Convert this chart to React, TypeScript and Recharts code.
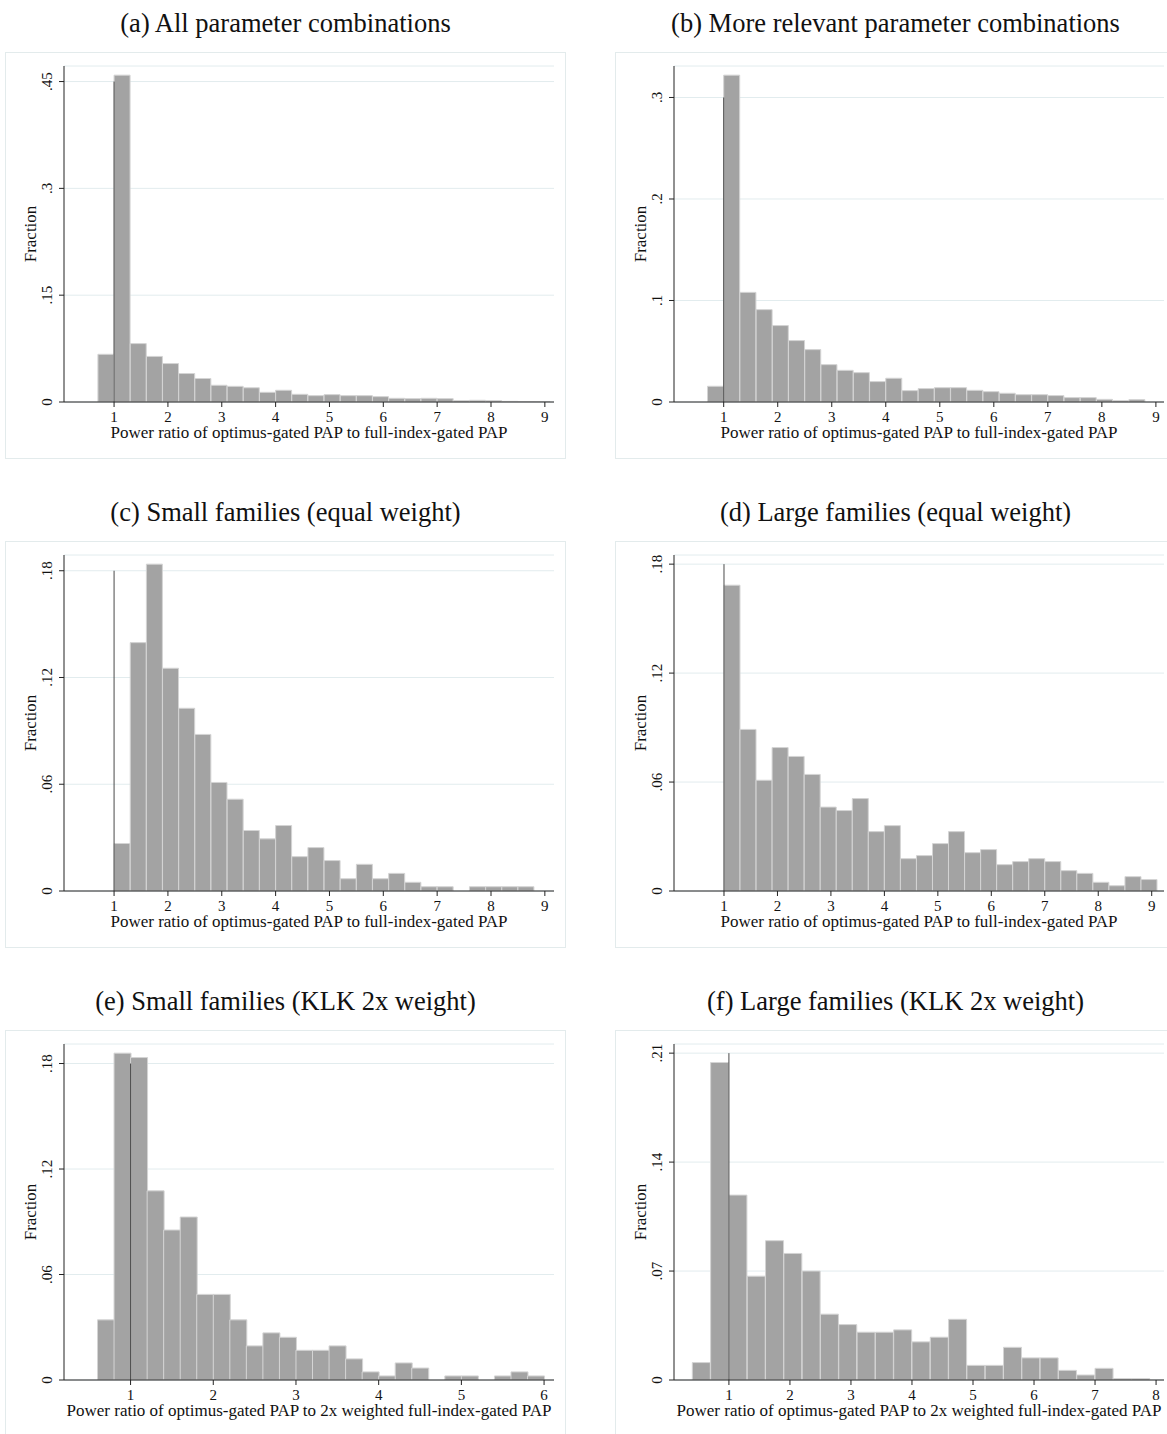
import React from "react";
import {
  ComposedChart,
  Bar,
  XAxis,
  YAxis,
  CartesianGrid,
  ReferenceLine,
  Label,
} from "recharts";

// fractions per histogram bin
const fracA = [
  0.067, 0.459, 0.082, 0.064, 0.054, 0.04, 0.033, 0.0235, 0.022, 0.02, 0.0136,
  0.0165, 0.0108, 0.0089, 0.0103, 0.0089, 0.0089, 0.0075, 0.0052, 0.0047,
  0.0052, 0.0047, 0.0019, 0.0024, 0.0019, 0.0009, 0.0005, 0.0003,
];
const fracB = [
  0.0155, 0.322, 0.108, 0.091, 0.0753, 0.0605, 0.0516, 0.0368, 0.0312, 0.0289,
  0.0201, 0.0234, 0.0112, 0.0132, 0.0141, 0.0141, 0.0115, 0.0102, 0.0086,
  0.0072, 0.0072, 0.0063, 0.0043, 0.0043, 0.0026, 0.0013, 0.0023,
];
const fracC = [
  0.0267, 0.1396, 0.1837, 0.1252, 0.1027, 0.088, 0.061, 0.0516, 0.034, 0.0293,
  0.0368, 0.0193, 0.0244, 0.0171, 0.0069, 0.015, 0.0069, 0.0099, 0.0049,
  0.0024, 0.0024, 0, 0.0024, 0.0024, 0.0024, 0.0024,
];
const fracD = [
  0.1684, 0.089, 0.061, 0.079, 0.0741, 0.0642, 0.0462, 0.0443, 0.0509, 0.0327,
  0.036, 0.0178, 0.0195, 0.0261, 0.0327, 0.0211, 0.0228, 0.0145, 0.0162,
  0.0178, 0.0162, 0.0112, 0.0097, 0.0048, 0.0029, 0.0079, 0.0063,
];
const fracE = [
  0.0342, 0.1859, 0.1834, 0.1076, 0.0853, 0.0927, 0.0487, 0.0487, 0.0342,
  0.0194, 0.0268, 0.0243, 0.0169, 0.0169, 0.0194, 0.012, 0.0046, 0.0023,
  0.0097, 0.0068, 0, 0.0023, 0.0023, 0, 0.0023, 0.0046, 0.0023,
];
const fracF = [
  0.0112, 0.204, 0.1188, 0.0667, 0.0895, 0.0813, 0.07, 0.0423, 0.0356, 0.0307,
  0.0307, 0.0322, 0.0245, 0.0275, 0.039, 0.0094, 0.0094, 0.021, 0.0142,
  0.0142, 0.0062, 0.0032, 0.0075, 0.0009, 0.0009,
];

// first bin edge and bin width of each histogram
const binStart = { a: 0.7, b: 0.7, c: 1.0, d: 1.0, e: 0.6, f: 0.4 };
const binWidth = { a: 0.3, b: 0.3, c: 0.3, d: 0.3, e: 0.2, f: 0.3 };

const xTicks9 = [1, 2, 3, 4, 5, 6, 7, 8, 9];
const xTicks6 = [1, 2, 3, 4, 5, 6];
const xTicks8 = [1, 2, 3, 4, 5, 6, 7, 8];

const yTicksA = [0, 0.15, 0.3, 0.45];
const yTicksB = [0, 0.1, 0.2, 0.3];
const yTicks06 = [0, 0.06, 0.12, 0.18];
const yTicksF = [0, 0.07, 0.14, 0.21];

const titles = [
  "(a) All parameter combinations",
  "(b) More relevant parameter combinations",
  "(c) Small families (equal weight)",
  "(d) Large families (equal weight)",
  "(e) Small families (KLK 2x weight)",
  "(f) Large families (KLK 2x weight)",
];

const xTitle1 = "Power ratio of optimus-gated PAP to full-index-gated PAP";
const xTitle2 =
  "Power ratio of optimus-gated PAP to 2x weighted full-index-gated PAP";

const FONT = "'Liberation Serif', 'Times New Roman', serif";
const PW = 561;
const PH = 407;

const fmtY = (v: number) => (v === 0 ? "0" : String(v).replace(/^0/, ""));

function YTick(props: any) {
  const { x, y, payload } = props;
  return (
    <text
      x={x}
      y={y}
      transform={`rotate(-90 ${x} ${y})`}
      textAnchor="middle"
      fontSize={15}
      fontFamily={FONT}
      fill="#111"
    >
      {fmtY(payload.value)}
    </text>
  );
}

type PanelProps = {
  title: string;
  left: number;
  top: number;
  frac: number[];
  start: number;
  width: number;
  xDomain: [number, number];
  xTicks: number[];
  yTicks: number[];
  xTitle: string;
};

function Panel({
  title,
  left,
  top,
  frac,
  start,
  width,
  xDomain,
  xTicks,
  yTicks,
  xTitle,
}: PanelProps) {
  const data = frac.map((v, i) => ({ x: start + width * (i + 0.5), v }));
  const yTop = Math.max(Math.max(...frac), yTicks[yTicks.length - 1]) * 1.028;
  const lineTop = yTicks[yTicks.length - 1];

  return (
    <>
      <div
        style={{
          position: "absolute",
          left,
          top: top - 44,
          width: PW,
          textAlign: "center",
          fontFamily: FONT,
          fontSize: 26.5,
          lineHeight: "30px",
          color: "#111",
          whiteSpace: "nowrap",
        }}
      >
        {title}
      </div>
      <div
        style={{
          position: "absolute",
          left,
          top,
          width: PW,
          height: PH,
          boxSizing: "border-box",
          border: "1px solid #e3ebec",
        }}
      >
        <ComposedChart
          width={PW}
          height={PH}
          data={data}
          margin={{ top: 13, right: 13, bottom: 13, left: 18 }}
          barCategoryGap={0}
          barGap={0}
        >
          <CartesianGrid horizontal vertical={false} stroke="#e2ecee" />
          <XAxis
            dataKey="x"
            type="number"
            domain={xDomain}
            allowDataOverflow
            ticks={xTicks}
            height={45}
            tickSize={5}
            tickMargin={4}
            stroke="#222"
            tick={{ fontSize: 15, fontFamily: FONT, fill: "#111" }}
          >
            <Label
              content={(p: any) => {
                const vb = p.viewBox;
                return (
                  <text
                    x={vb.x + vb.width / 2}
                    y={vb.y + 36}
                    textAnchor="middle"
                    fontSize={17}
                    fontFamily={FONT}
                    fill="#111"
                  >
                    {xTitle}
                  </text>
                );
              }}
            />
          </XAxis>
          <YAxis
            type="number"
            domain={[0, yTop]}
            allowDataOverflow
            ticks={yTicks}
            width={40}
            tickSize={5}
            tickMargin={7}
            stroke="#222"
            tick={<YTick />}
          >
            <Label
              content={(p: any) => {
                const vb = p.viewBox;
                const cx = 30;
                const cy = vb.y + vb.height / 2;
                return (
                  <text
                    x={cx}
                    y={cy}
                    transform={`rotate(-90 ${cx} ${cy})`}
                    textAnchor="middle"
                    fontSize={17}
                    fontFamily={FONT}
                    fill="#111"
                  >
                    Fraction
                  </text>
                );
              }}
            />
          </YAxis>
          <Bar
            dataKey="v"
            fill="#a3a3a3"
            stroke="#d4d4d4"
            strokeWidth={1}
            isAnimationActive={false}
          />
          <ReferenceLine
            segment={[
              { x: 1, y: 0 },
              { x: 1, y: lineTop },
            ]}
            stroke="#4a4a4a"
            strokeWidth={1}
          />
        </ComposedChart>
      </div>
    </>
  );
}

export default function App() {
  const col1 = 5;
  const col2 = 615;
  return (
    <div
      style={{
        position: "absolute",
        left: 0,
        top: 0,
        width: 1167,
        height: 1434,
        background: "#fff",
        overflow: "hidden",
      }}
    >
      <Panel
        title={titles[0]}
        left={col1}
        top={52}
        frac={fracA}
        start={binStart.a}
        width={binWidth.a}
        xDomain={[0.07, 9.17]}
        xTicks={xTicks9}
        yTicks={yTicksA}
        xTitle={xTitle1}
      />
      <Panel
        title={titles[1]}
        left={col2}
        top={52}
        frac={fracB}
        start={binStart.b}
        width={binWidth.b}
        xDomain={[0.08, 9.15]}
        xTicks={xTicks9}
        yTicks={yTicksB}
        xTitle={xTitle1}
      />
      <Panel
        title={titles[2]}
        left={col1}
        top={541}
        frac={fracC}
        start={binStart.c}
        width={binWidth.c}
        xDomain={[0.07, 9.17]}
        xTicks={xTicks9}
        yTicks={yTicks06}
        xTitle={xTitle1}
      />
      <Panel
        title={titles[3]}
        left={col2}
        top={541}
        frac={fracD}
        start={binStart.d}
        width={binWidth.d}
        xDomain={[0.065, 9.23]}
        xTicks={xTicks9}
        yTicks={yTicks06}
        xTitle={xTitle1}
      />
      <Panel
        title={titles[4]}
        left={col1}
        top={1030}
        frac={fracE}
        start={binStart.e}
        width={binWidth.e}
        xDomain={[0.195, 6.12]}
        xTicks={xTicks6}
        yTicks={yTicks06}
        xTitle={xTitle2}
      />
      <Panel
        title={titles[5]}
        left={col2}
        top={1030}
        frac={fracF}
        start={binStart.f}
        width={binWidth.f}
        xDomain={[0.1, 8.13]}
        xTicks={xTicks8}
        yTicks={yTicksF}
        xTitle={xTitle2}
      />
    </div>
  );
}
